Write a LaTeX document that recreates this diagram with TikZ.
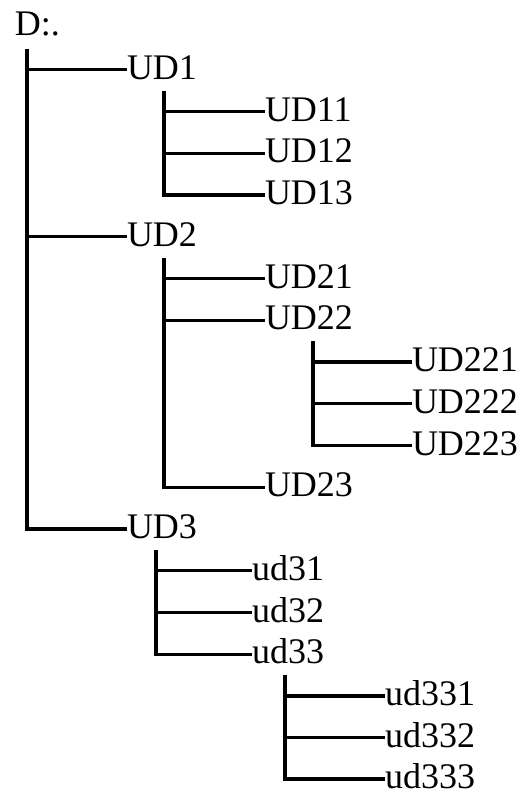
\documentclass[tikz,border=0pt]{standalone}
\usepackage{fontspec}
\setmainfont{Liberation Serif}
\begin{document}
\begin{tikzpicture}[x=1pt,y=-1pt,
  item/.style={anchor=base west,inner sep=0pt,outer sep=0pt,
    font=\fontsize{36}{40}\selectfont},
  branch/.style={line width=3.1pt,black,line join=miter}]
\useasboundingbox (0,0) rectangle (528,793);
% row pitch and baseline drop below each branch line
\def\rowh{41.75}
\def\rowy#1{28+\rowh*#1+9.5}
\def\at#1{([yshift=9.5pt]#1.base west)}
% tree entries
\node[item] (D)     at (15,{\rowy{0}-2})  {D:.};
\node[item] (UD1)   at (127,{\rowy{1}}) {UD1};
\node[item] (UD11)  at (265,{\rowy{2}}) {UD11};
\node[item] (UD12)  at (265,{\rowy{3}}) {UD12};
\node[item] (UD13)  at (265,{\rowy{4}}) {UD13};
\node[item] (UD2)   at (127,{\rowy{5}}) {UD2};
\node[item] (UD21)  at (265,{\rowy{6}}) {UD21};
\node[item] (UD22)  at (265,{\rowy{7}}) {UD22};
\node[item] (UD221) at (412,{\rowy{8}}) {UD221};
\node[item] (UD222) at (412,{\rowy{9}}) {UD222};
\node[item] (UD223) at (412,{\rowy{10}}) {UD223};
\node[item] (UD23)  at (265,{\rowy{11}}) {UD23};
\node[item] (UD3)   at (127,{\rowy{12}}) {UD3};
\node[item] (ud31)  at (252,{\rowy{13}}) {ud31};
\node[item] (ud32)  at (252,{\rowy{14}}) {ud32};
\node[item] (ud33)  at (252,{\rowy{15}}) {ud33};
\node[item] (ud331) at (385,{\rowy{16}}) {ud331};
\node[item] (ud332) at (385,{\rowy{17}}) {ud332};
\node[item] (ud333) at (385,{\rowy{18}-0.5}) {ud333};
% trunk tops, one per parent
\coordinate (tD)    at (27,{\rowy{1}-30.5});
\coordinate (tUD1)  at (164,{\rowy{2}-30.5});
\coordinate (tUD2)  at (164,{\rowy{6}-30.5});
\coordinate (tUD22) at (313,{\rowy{8}-30.5});
\coordinate (tUD3)  at (156,{\rowy{13}-30.5});
\coordinate (tud33) at (285,{\rowy{16}-30.5});
% D:.
\draw[branch] (tD) |- \at{UD3};
\draw[branch] (tD |- 0,{\rowy{1}-9.5}) -- \at{UD1};
\draw[branch] (tD |- 0,{\rowy{5}-9.5}) -- \at{UD2};
% UD1
\draw[branch] (tUD1) |- \at{UD13};
\draw[branch] (tUD1 |- 0,{\rowy{2}-9.5}) -- \at{UD11};
\draw[branch] (tUD1 |- 0,{\rowy{3}-9.5}) -- \at{UD12};
% UD2
\draw[branch] (tUD2) |- \at{UD23};
\draw[branch] (tUD2 |- 0,{\rowy{6}-9.5}) -- \at{UD21};
\draw[branch] (tUD2 |- 0,{\rowy{7}-9.5}) -- \at{UD22};
% UD22
\draw[branch] (tUD22) |- \at{UD223};
\draw[branch] (tUD22 |- 0,{\rowy{8}-9.5}) -- \at{UD221};
\draw[branch] (tUD22 |- 0,{\rowy{9}-9.5}) -- \at{UD222};
% UD3
\draw[branch] (tUD3) |- \at{ud33};
\draw[branch] (tUD3 |- 0,{\rowy{13}-9.5}) -- \at{ud31};
\draw[branch] (tUD3 |- 0,{\rowy{14}-9.5}) -- \at{ud32};
% ud33
\draw[branch] (tud33) |- \at{ud333};
\draw[branch] (tud33 |- 0,{\rowy{16}-9.5}) -- \at{ud331};
\draw[branch] (tud33 |- 0,{\rowy{17}-9.5}) -- \at{ud332};
\end{tikzpicture}
\end{document}
